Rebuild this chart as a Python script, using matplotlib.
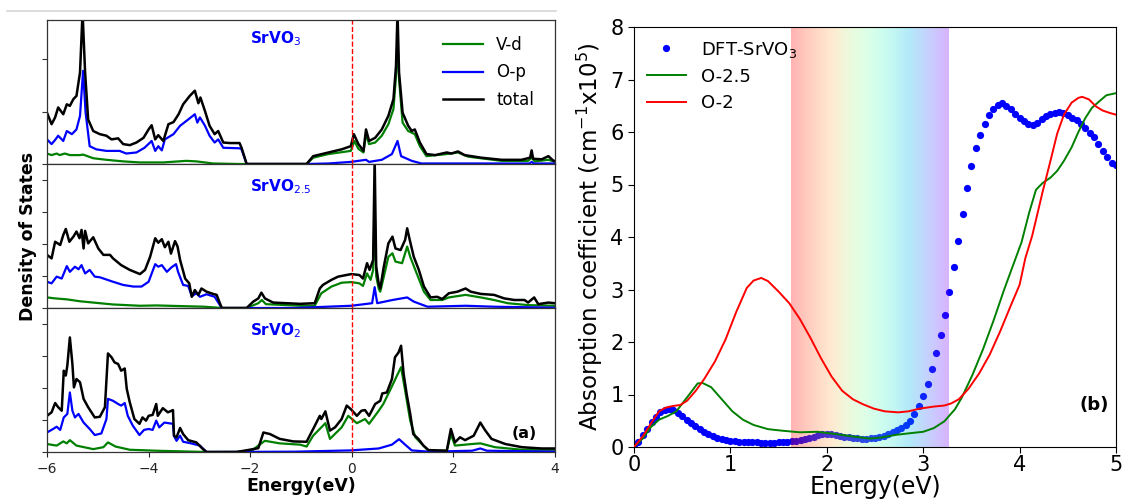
import numpy as np
import matplotlib
matplotlib.use("Agg")
import matplotlib.pyplot as plt
from matplotlib.lines import Line2D

# ----------------------------------------------------------------------
# Data: left panels, (energy eV, DOS) pairs
# ----------------------------------------------------------------------
srvo3_total = [(-6.0, 0.98), (-5.91, 0.76), (-5.84, 0.89), (-5.78, 1.08), (-5.68, 0.95), (-5.61, 1.14),
               (-5.55, 1.11), (-5.48, 1.24), (-5.42, 1.30), (-5.35, 1.75), (-5.30, 2.9), (-5.25, 1.75),
               (-5.19, 0.85), (-5.09, 0.63), (-4.96, 0.57), (-4.83, 0.54), (-4.73, 0.47), (-4.60, 0.49),
               (-4.50, 0.38), (-4.37, 0.36), (-4.24, 0.41), (-4.10, 0.50), (-4.00, 0.66), (-3.94, 0.74),
               (-3.87, 0.47), (-3.81, 0.55), (-3.71, 0.44), (-3.61, 0.76), (-3.51, 0.80), (-3.41, 0.95),
               (-3.32, 1.14), (-3.19, 1.30), (-3.09, 1.40), (-3.02, 1.16), (-2.98, 1.27), (-2.89, 1.01),
               (-2.80, 0.73), (-2.70, 0.57), (-2.63, 0.63), (-2.53, 0.41), (-2.40, 0.40), (-2.21, 0.40),
               (-2.17, 0.31), (-2.07, 0.0), (-0.89, 0.0), (-0.76, 0.15), (-0.46, 0.22), (-0.20, 0.28),
               (-0.02, 0.34), (0.04, 0.57), (0.13, 0.38), (0.23, 0.25), (0.28, 0.66), (0.34, 0.44),
               (0.46, 0.50), (0.59, 0.66), (0.72, 0.92), (0.82, 1.24), (0.87, 1.87), (0.90, 2.9),
               (0.93, 1.75), (1.00, 0.98), (1.11, 0.73), (1.18, 0.63), (1.24, 0.66), (1.34, 0.41),
               (1.47, 0.19), (1.64, 0.17), (1.87, 0.22), (1.96, 0.20), (2.09, 0.24), (2.22, 0.17),
               (2.55, 0.12), (2.95, 0.08), (3.34, 0.08), (3.51, 0.12), (3.54, 0.26), (3.57, 0.10),
               (3.74, 0.09), (3.87, 0.15), (3.97, 0.06), (4.0, 0.06)]
srvo3_vd = [(-6.0, 0.20), (-5.91, 0.17), (-5.81, 0.20), (-5.75, 0.17), (-5.65, 0.20), (-5.55, 0.17),
            (-5.35, 0.17), (-5.29, 0.18), (-5.09, 0.11), (-4.83, 0.08), (-4.50, 0.05), (-4.17, 0.03),
            (-3.71, 0.03), (-3.26, 0.06), (-3.06, 0.05), (-2.73, 0.01), (-2.21, 0.0), (-0.89, 0.0),
            (-0.76, 0.12), (-0.46, 0.19), (-0.02, 0.25), (0.05, 0.44), (0.13, 0.29), (0.23, 0.22),
            (0.28, 0.57), (0.34, 0.38), (0.46, 0.41), (0.59, 0.54), (0.72, 0.76), (0.82, 1.05),
            (0.87, 1.68), (0.90, 2.38), (0.93, 1.62), (1.00, 0.79), (1.11, 0.63), (1.24, 0.57),
            (1.34, 0.34), (1.47, 0.15), (1.87, 0.19), (2.09, 0.22), (2.29, 0.14), (2.95, 0.06),
            (3.47, 0.06), (3.54, 0.12), (3.60, 0.05), (3.87, 0.08), (4.0, 0.04)]
srvo3_op = [(-6.0, 0.47), (-5.91, 0.38), (-5.84, 0.46), (-5.78, 0.54), (-5.68, 0.44), (-5.61, 0.63),
            (-5.51, 0.57), (-5.42, 0.66), (-5.35, 0.92), (-5.29, 1.78), (-5.24, 0.98), (-5.16, 0.34),
            (-5.03, 0.28), (-4.83, 0.25), (-4.57, 0.25), (-4.44, 0.20), (-4.24, 0.22), (-4.08, 0.31),
            (-3.94, 0.44), (-3.87, 0.25), (-3.81, 0.34), (-3.74, 0.26), (-3.68, 0.47), (-3.51, 0.57),
            (-3.38, 0.73), (-3.22, 0.85), (-3.09, 0.95), (-3.04, 0.79), (-2.99, 0.89), (-2.89, 0.73),
            (-2.80, 0.54), (-2.70, 0.41), (-2.63, 0.47), (-2.53, 0.31), (-2.21, 0.30), (-2.17, 0.28),
            (-2.07, 0.0), (-0.89, 0.0), (-0.46, 0.01), (-0.02, 0.04), (0.28, 0.08), (0.34, 0.04),
            (0.59, 0.08), (0.79, 0.19), (0.90, 0.44), (0.97, 0.15), (1.18, 0.06), (1.37, 0.01),
            (3.50, 0.01), (3.54, 0.04), (3.58, 0.01), (4.0, 0.01)]

srvo25_total = [(-6.0, 1.66), (-5.91, 1.55), (-5.84, 2.07), (-5.74, 1.97), (-5.68, 2.28), (-5.63, 2.47),
                (-5.56, 2.07), (-5.48, 2.23), (-5.42, 2.39), (-5.36, 2.18), (-5.32, 2.44), (-5.28, 1.86),
                (-5.25, 2.41), (-5.19, 2.02), (-5.09, 2.21), (-4.99, 1.86), (-4.89, 1.66), (-4.76, 1.66),
                (-4.70, 1.55), (-4.54, 1.34), (-4.37, 1.19), (-4.17, 1.06), (-4.07, 1.19), (-3.97, 1.60),
                (-3.87, 2.18), (-3.81, 2.04), (-3.74, 2.15), (-3.68, 1.90), (-3.61, 2.07), (-3.56, 1.70),
                (-3.48, 2.09), (-3.43, 1.92), (-3.38, 1.50), (-3.28, 0.92), (-3.20, 0.77), (-3.15, 0.35),
                (-3.09, 0.56), (-3.02, 0.41), (-2.96, 0.61), (-2.86, 0.51), (-2.73, 0.44), (-2.66, 0.41),
                (-2.56, 0.0), (-2.07, 0.0), (-1.94, 0.20), (-1.84, 0.30), (-1.78, 0.48), (-1.71, 0.30),
                (-1.55, 0.17), (-1.02, 0.13), (-0.73, 0.15), (-0.63, 0.61), (-0.57, 0.72), (-0.40, 0.88),
                (-0.27, 0.98), (-0.01, 1.06), (0.15, 1.03), (0.22, 0.92), (0.30, 1.40), (0.35, 1.19),
                (0.42, 1.50), (0.45, 4.7), (0.48, 1.3), (0.53, 0.75), (0.56, 0.61), (0.63, 1.29),
                (0.72, 2.02), (0.80, 2.23), (0.86, 1.86), (0.96, 1.81), (1.05, 2.13), (1.09, 2.49),
                (1.14, 2.13), (1.22, 1.60), (1.32, 1.19), (1.42, 0.67), (1.55, 0.33), (1.68, 0.35),
                (1.78, 0.28), (1.91, 0.46), (2.08, 0.51), (2.24, 0.61), (2.34, 0.51), (2.54, 0.44),
                (2.80, 0.41), (3.00, 0.30), (3.20, 0.25), (3.40, 0.25), (3.47, 0.17), (3.59, 0.33),
                (3.67, 0.12), (3.87, 0.17), (4.0, 0.15)]
srvo25_vd = [(-6.0, 0.33), (-5.84, 0.30), (-5.61, 0.27), (-5.35, 0.21), (-5.09, 0.17), (-4.70, 0.11),
             (-4.17, 0.07), (-3.84, 0.08), (-3.38, 0.06), (-2.9, 0.04), (-2.56, 0.0), (-2.07, 0.0),
             (-1.84, 0.15), (-1.77, 0.25), (-1.69, 0.12), (-1.02, 0.07), (-0.73, 0.07), (-0.60, 0.46),
             (-0.40, 0.67), (-0.20, 0.79), (-0.01, 0.81), (0.15, 0.77), (0.22, 0.69), (0.30, 1.08),
             (0.37, 0.88), (0.42, 1.19), (0.45, 3.2), (0.48, 1.0), (0.53, 0.6), (0.56, 0.51),
             (0.63, 0.98), (0.72, 1.60), (0.80, 1.71), (0.86, 1.45), (0.99, 1.40), (1.09, 1.92),
             (1.15, 1.60), (1.25, 1.19), (1.42, 0.51), (1.55, 0.25), (1.78, 0.25), (1.91, 0.33),
             (2.24, 0.41), (2.54, 0.33), (2.80, 0.25), (3.07, 0.15), (3.47, 0.09), (4.0, 0.07)]
srvo25_op = [(-6.0, 0.82), (-5.91, 0.77), (-5.81, 0.98), (-5.71, 0.92), (-5.61, 1.31), (-5.55, 1.13),
             (-5.45, 1.29), (-5.38, 1.21), (-5.32, 1.34), (-5.25, 1.08), (-5.16, 1.19), (-5.06, 0.98),
             (-4.96, 0.96), (-4.70, 0.82), (-4.50, 0.72), (-4.30, 0.67), (-4.14, 0.67), (-4.00, 0.82),
             (-3.87, 1.37), (-3.81, 1.29), (-3.74, 1.34), (-3.64, 1.13), (-3.55, 1.27), (-3.46, 1.37),
             (-3.42, 1.13), (-3.32, 0.72), (-3.22, 0.69), (-3.15, 0.37), (-3.06, 0.46), (-2.99, 0.35),
             (-2.86, 0.43), (-2.70, 0.35), (-2.56, 0.0), (-1.12, 0.0), (-0.01, 0.07), (0.40, 0.15),
             (0.45, 0.65), (0.50, 0.15), (0.80, 0.25), (1.09, 0.33), (1.22, 0.20), (1.49, 0.04),
             (2.24, 0.07), (2.80, 0.04), (4.0, 0.01)]

srvo2_total = [(-6.0, 1.13), (-5.91, 1.24), (-5.84, 1.53), (-5.78, 1.40), (-5.71, 1.29), (-5.67, 2.54),
               (-5.63, 2.39), (-5.60, 2.70), (-5.55, 3.58), (-5.50, 2.75), (-5.47, 2.02), (-5.42, 2.28),
               (-5.35, 2.18), (-5.28, 1.66), (-5.19, 1.40), (-5.06, 1.08), (-4.96, 1.10), (-4.86, 1.40),
               (-4.80, 3.08), (-4.73, 2.96), (-4.67, 2.80), (-4.60, 2.75), (-4.54, 2.54), (-4.47, 2.61),
               (-4.43, 1.97), (-4.37, 1.55), (-4.28, 1.03), (-4.18, 0.88), (-4.12, 1.08), (-4.05, 0.98),
               (-4.00, 1.13), (-3.92, 1.16), (-3.85, 1.50), (-3.82, 1.13), (-3.72, 1.37), (-3.62, 1.24),
               (-3.52, 1.31), (-3.50, 0.51), (-3.45, 0.46), (-3.38, 0.75), (-3.32, 0.56), (-3.22, 0.37),
               (-3.06, 0.30), (-2.93, 0.09), (-2.86, 0.0), (-2.27, 0.0), (-2.01, 0.07), (-1.84, 0.12),
               (-1.74, 0.61), (-1.61, 0.56), (-1.42, 0.41), (-1.15, 0.33), (-0.89, 0.32), (-0.76, 0.72),
               (-0.63, 1.13), (-0.60, 1.03), (-0.52, 1.27), (-0.43, 0.67), (-0.33, 0.77), (-0.20, 1.03),
               (-0.10, 1.45), (-0.02, 1.34), (0.10, 1.13), (0.19, 1.29), (0.26, 1.31), (0.34, 1.13),
               (0.46, 1.50), (0.56, 1.60), (0.60, 1.83), (0.69, 1.86), (0.79, 2.28), (0.85, 2.96),
               (0.92, 3.11), (0.97, 3.32), (1.02, 2.44), (1.08, 1.81), (1.15, 1.19), (1.21, 0.56),
               (1.31, 0.41), (1.41, 0.20), (1.51, 0.06), (1.87, 0.04), (1.95, 0.72), (2.03, 0.30),
               (2.13, 0.46), (2.23, 0.37), (2.40, 0.51), (2.53, 0.92), (2.62, 0.69), (2.75, 0.41),
               (3.02, 0.25), (3.35, 0.15), (3.74, 0.11), (4.0, 0.11)]
srvo2_vd = [(-6.0, 0.25), (-5.81, 0.20), (-5.68, 0.33), (-5.61, 0.27), (-5.55, 0.37), (-5.42, 0.20),
            (-5.09, 0.09), (-4.89, 0.15), (-4.80, 0.30), (-4.65, 0.17), (-4.37, 0.07), (-3.85, 0.04),
            (-2.86, 0.0), (-2.27, 0.0), (-1.97, 0.04), (-1.84, 0.20), (-1.71, 0.35), (-1.42, 0.27),
            (-1.02, 0.23), (-0.89, 0.17), (-0.76, 0.51), (-0.60, 0.77), (-0.52, 0.90), (-0.43, 0.41),
            (-0.20, 0.77), (-0.07, 1.13), (0.10, 0.90), (0.26, 1.03), (0.34, 0.88), (0.53, 1.29),
            (0.62, 1.50), (0.75, 1.92), (0.89, 2.39), (0.97, 2.65), (1.05, 1.92), (1.15, 0.98),
            (1.25, 0.46), (1.41, 0.20), (1.51, 0.04), (1.87, 0.04), (1.95, 0.56), (2.03, 0.20),
            (2.37, 0.25), (2.53, 0.27), (2.82, 0.15), (3.35, 0.07), (4.0, 0.07)]
srvo2_op = [(-6.0, 0.61), (-5.88, 0.72), (-5.81, 0.79), (-5.74, 0.69), (-5.67, 1.08), (-5.60, 1.19),
            (-5.55, 1.86), (-5.50, 1.29), (-5.45, 1.08), (-5.38, 1.19), (-5.28, 0.92), (-5.16, 0.72),
            (-5.06, 0.53), (-4.93, 0.58), (-4.83, 1.03), (-4.80, 1.66), (-4.70, 1.60), (-4.60, 1.50),
            (-4.54, 1.45), (-4.47, 1.53), (-4.41, 1.13), (-4.31, 0.82), (-4.18, 0.53), (-4.09, 0.69),
            (-4.00, 0.72), (-3.92, 0.69), (-3.85, 0.98), (-3.79, 0.77), (-3.69, 0.92), (-3.52, 0.88),
            (-3.50, 0.50), (-3.45, 0.35), (-3.38, 0.51), (-3.32, 0.32), (-3.19, 0.28), (-2.99, 0.20),
            (-2.86, 0.0), (-1.12, 0.01), (-0.02, 0.05), (0.53, 0.11), (0.79, 0.23), (0.93, 0.40),
            (1.05, 0.23), (1.18, 0.05), (1.51, 0.01), (2.37, 0.04), (2.53, 0.11), (2.66, 0.04),
            (4.0, 0.01)]

panel_names = ["SrVO$_3$", "SrVO$_{2.5}$", "SrVO$_2$"]
panel_ylim = [2.75, 4.5, 4.5]
dos_energy_ticks = [-6, -4, -2, 0, 2, 4]

# ----------------------------------------------------------------------
# Data: right panel, absorption (x10^5 cm^-1)
# ----------------------------------------------------------------------
dft_energy = np.linspace(0, 5, 111)
dft_srvo3 = [0.00, 0.09, 0.22, 0.35, 0.48, 0.58, 0.66, 0.70, 0.72, 0.70,
             0.65, 0.59, 0.52, 0.46, 0.40, 0.35, 0.29, 0.25, 0.21, 0.18,
             0.15, 0.13, 0.12, 0.11, 0.10, 0.10, 0.09, 0.09, 0.09, 0.08,
             0.08, 0.08, 0.08, 0.09, 0.09, 0.10, 0.11, 0.12, 0.14, 0.16,
             0.18, 0.20, 0.22, 0.24, 0.25, 0.24, 0.23, 0.21, 0.20, 0.19,
             0.18, 0.17, 0.16, 0.16, 0.17, 0.18, 0.19, 0.21, 0.25, 0.28,
             0.32, 0.36, 0.41, 0.50, 0.62, 0.78, 0.98, 1.20, 1.48, 1.79,
             2.13, 2.52, 2.95, 3.42, 3.93, 4.44, 4.93, 5.35, 5.70, 5.95,
             6.15, 6.32, 6.43, 6.51, 6.55, 6.50, 6.43, 6.35, 6.27, 6.21,
             6.16, 6.14, 6.18, 6.24, 6.30, 6.34, 6.37, 6.38, 6.36, 6.32,
             6.27, 6.22, 6.16, 6.08, 5.99, 5.90, 5.77, 5.64, 5.52, 5.41,
             5.38]
o25_abs = [(0.0, 0.0), (0.09, 0.16), (0.18, 0.39), (0.26, 0.52), (0.35, 0.59), (0.44, 0.68),
           (0.51, 0.85), (0.59, 1.04), (0.66, 1.21), (0.71, 1.22), (0.80, 1.14), (0.91, 0.91),
           (1.02, 0.68), (1.13, 0.52), (1.24, 0.42), (1.39, 0.34), (1.54, 0.31), (1.72, 0.28),
           (1.90, 0.29), (2.08, 0.25), (2.27, 0.20), (2.45, 0.16), (2.56, 0.18), (2.71, 0.23),
           (2.85, 0.26), (3.00, 0.29), (3.11, 0.36), (3.22, 0.49), (3.33, 0.72), (3.40, 0.94),
           (3.51, 1.37), (3.62, 1.86), (3.73, 2.41), (3.84, 3.00), (3.95, 3.55), (4.02, 3.90),
           (4.10, 4.47), (4.17, 4.90), (4.24, 5.03), (4.32, 5.13), (4.39, 5.26), (4.46, 5.45),
           (4.54, 5.71), (4.61, 6.00), (4.68, 6.26), (4.75, 6.46), (4.83, 6.59), (4.90, 6.70),
           (5.0, 6.74)]
o2_abs = [(0.0, 0.0), (0.09, 0.20), (0.18, 0.46), (0.26, 0.68), (0.33, 0.75), (0.40, 0.78),
          (0.48, 0.80), (0.55, 0.88), (0.64, 1.07), (0.73, 1.30), (0.84, 1.63), (0.95, 2.05),
          (1.06, 2.57), (1.17, 3.03), (1.24, 3.17), (1.32, 3.22), (1.39, 3.16), (1.50, 2.96),
          (1.61, 2.74), (1.72, 2.44), (1.83, 2.08), (1.94, 1.69), (2.05, 1.34), (2.16, 1.07),
          (2.27, 0.91), (2.38, 0.81), (2.49, 0.73), (2.60, 0.68), (2.74, 0.66), (2.85, 0.68),
          (2.96, 0.73), (3.11, 0.77), (3.22, 0.79), (3.29, 0.83), (3.37, 0.91), (3.47, 1.11),
          (3.58, 1.40), (3.69, 1.76), (3.80, 2.21), (3.91, 2.70), (4.00, 3.09), (4.06, 3.60),
          (4.13, 4.02), (4.24, 4.87), (4.32, 5.45), (4.39, 5.97), (4.46, 6.33), (4.54, 6.56),
          (4.61, 6.65), (4.65, 6.67), (4.72, 6.62), (4.79, 6.49), (4.86, 6.41), (4.94, 6.36),
          (5.0, 6.33)]
visible_range = (1.63, 3.26)


def xy(pairs):
    e, v = zip(*pairs)
    return np.array(e), np.array(v)


fig = plt.figure(figsize=(11.23, 5.0), dpi=100)
W, H = 1123.0, 500.0

# thin grey separator line at the very top left
fig.add_artist(Line2D([7 / W, 556 / W], [1 - 11 / H, 1 - 11 / H], color="#d6d6d6", lw=1.2))

# ----------------------------------------------------------------------
# Left: three stacked DOS panels
# ----------------------------------------------------------------------
left, width, ph = 47 / W, 508 / W, 144 / H
bottoms = [1 - 164 / H, 1 - 308 / H, 1 - 452 / H]
datasets = [(srvo3_vd, srvo3_op, srvo3_total),
            (srvo25_vd, srvo25_op, srvo25_total),
            (srvo2_vd, srvo2_op, srvo2_total)]

dos_axes = []
for i, (vd, op, tot) in enumerate(datasets):
    ax = fig.add_axes([left, bottoms[i], width, ph])
    dos_axes.append(ax)
    ax.plot(*xy(vd), color="green", lw=1.6, label="V-d")
    ax.plot(*xy(op), color="blue", lw=1.6, label="O-p")
    ax.plot(*xy(tot), color="black", lw=1.8, label="total")
    ax.axvline(0, color="red", ls="--", lw=1.0)
    ax.set_xlim(-6, 4)
    ax.set_ylim(0, panel_ylim[i])
    ax.set_yticks(np.arange(0, int(panel_ylim[i]) + 1))
    ax.set_yticklabels([])
    ax.tick_params(axis="y", direction="out", length=3.5, width=0.8, colors="#333333")
    ax.set_xticks(dos_energy_ticks)
    for s in ax.spines.values():
        s.set_color("#333333")
        s.set_linewidth(0.9)
    ax.text(-2.0, 0.87 if i == 0 else 0.84, panel_names[i], transform=ax.get_xaxis_transform(),
            color="blue", fontsize=11, fontweight="bold", ha="left", va="center")
    if i < 2:
        ax.tick_params(axis="x", length=0, labelbottom=False)
    else:
        ax.tick_params(axis="x", direction="out", length=3.5, labelsize=10, colors="#222222")
        ax.set_xlabel("Energy(eV)", fontsize=12.5, fontweight="bold", labelpad=1)

dos_axes[0].legend(loc="upper right", frameon=False, fontsize=12, handlelength=2.4,
                   labelspacing=0.55, borderaxespad=0.4, bbox_to_anchor=(0.985, 0.98))
dos_axes[2].text(0.965, 0.13, "(a)", transform=dos_axes[2].transAxes, fontsize=11.5,
                 fontweight="bold", ha="right", va="center")
fig.text(28 / W, 1 - 236 / H, "Density of States", rotation=90, fontsize=12.5,
         fontweight="bold", ha="center", va="center")

# ----------------------------------------------------------------------
# Right: absorption coefficient
# ----------------------------------------------------------------------
axr = fig.add_axes([634 / W, 1 - 447 / H, 482 / W, 420 / H])
axr.plot(dft_energy, dft_srvo3, "o", color="blue", ms=5.2, mec="none", zorder=1, label="DFT-SrVO$_3$")
grad = np.linspace(0, 1, 256).reshape(1, -1)
axr.imshow(grad, cmap="rainbow_r", aspect="auto", alpha=0.3, zorder=2,
           extent=[visible_range[0], visible_range[1], 0, 8])
axr.plot(*xy(o25_abs), color="green", lw=1.4, zorder=3, label="O-2.5")
axr.plot(*xy(o2_abs), color="red", lw=1.4, zorder=3, label="O-2")
axr.set_xlim(0, 5)
axr.set_ylim(0, 8)
axr.set_xticks([0, 1, 2, 3, 4, 5])
axr.set_yticks(range(0, 9))
axr.tick_params(direction="out", labelsize=15, length=4)
axr.tick_params(axis="x", pad=1.5)
axr.set_xlabel("Energy(eV)", fontsize=17, labelpad=0)
axr.set_ylabel("Absorption coefficient (cm$^{-1}$x10$^5$)", fontsize=16.5, labelpad=4)
axr.legend(loc="upper left", frameon=False, fontsize=13, numpoints=1, handlelength=2.2,
           borderaxespad=0.3, labelspacing=0.45)
axr.text(0.985, 0.1, "(b)", transform=axr.transAxes, fontsize=13, fontweight="bold",
         ha="right", va="center")

fig.savefig("out.png", dpi=100)
